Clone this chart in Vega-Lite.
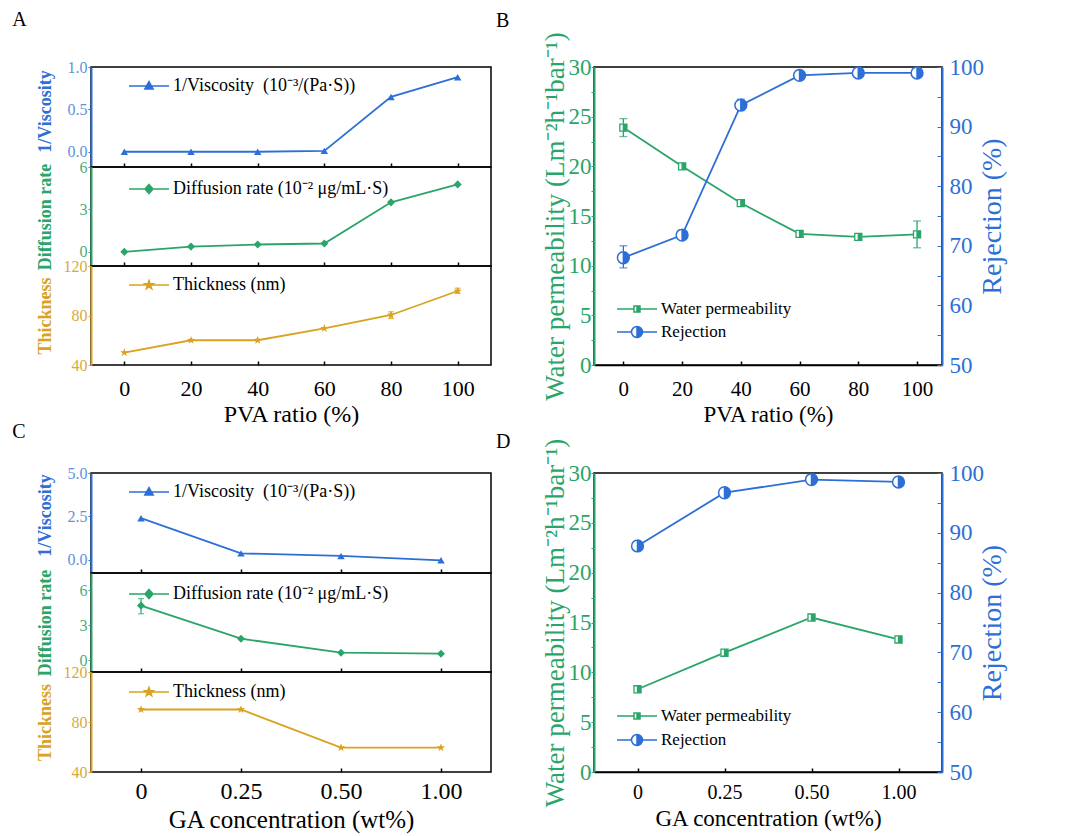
{
  "$schema": "https://vega.github.io/schema/vega-lite/v6.json",
  "padding": {"left": 12, "top": 10, "right": 5, "bottom": 5},
  "background": "white",
  "config": {
    "font": "Liberation Serif",
    "view": {"stroke": "black", "strokeWidth": 1.5},
    "axis": {"grid": false, "labelFont": "Liberation Serif", "titleFont": "Liberation Serif", "domainWidth": 2, "labelFlush": false, "labelOverlap": false, "titleFontWeight": "normal"},
    "legend": {"labelFont": "Liberation Serif", "labelColor": "black", "labelLimit": 0},
    "title": {"font": "Liberation Serif", "fontWeight": "normal", "fontSize": 20, "color": "black"}
  },
  "datasets": {
    "pva": [
      {"pva": 0, "visc": 0, "diff": 0, "thick": 50, "perm": 23.9, "perm_lo": 23.0, "perm_hi": 24.8, "rej": 68, "rej_lo": 66.3, "rej_hi": 70},
      {"pva": 20, "visc": 0, "diff": 0.37, "thick": 60, "perm": 20.0, "rej": 71.8},
      {"pva": 40, "visc": 0, "diff": 0.52, "thick": 60, "perm": 16.3, "rej": 93.6, "rej_lo": 92.7, "rej_hi": 94.6},
      {"pva": 60, "visc": 0.01, "diff": 0.59, "thick": 69.6, "perm": 13.2, "rej": 98.6},
      {"pva": 80, "visc": 0.647, "diff": 3.5, "thick": 80.4, "thick_lo": 77.5, "thick_hi": 83, "perm": 12.9, "rej": 99},
      {"pva": 100, "visc": 0.88, "diff": 4.77, "thick": 99.8, "thick_lo": 98, "thick_hi": 102, "perm": 13.15, "perm_lo": 11.8, "perm_hi": 14.5, "rej": 99}
    ],
    "ga": [
      {"ga": "0", "visc": 2.4, "diff": 4.7, "diff_lo": 4.0, "diff_hi": 5.3, "thick": 90, "perm": 8.3, "rej": 87.8},
      {"ga": "0.25", "visc": 0.38, "diff": 1.86, "thick": 90, "perm": 11.97, "rej": 96.7},
      {"ga": "0.50", "visc": 0.23, "diff": 0.66, "thick": 59.5, "perm": 15.5, "rej": 98.9},
      {"ga": "1.00", "visc": -0.02, "diff": 0.57, "thick": 59.5, "perm": 13.3, "rej": 98.5}
    ]
  },
  "vconcat": [
    {
      "hconcat": [
        {
          "title": {"text": "A", "anchor": "start", "dx": -23, "offset": 28},
          "spacing": 0,
          "bounds": "flush",
          "resolve": {"scale": {"color": "independent"}, "legend": {"color": "independent"}},
          "vconcat": [
            {
              "width": 400, "height": 100,
              "data": {"name": "pva"},
              "encoding": {
                "x": {"field": "pva", "type": "quantitative", "scale": {"domain": [-10, 110], "nice": false, "zero": false}, "axis": {"values": [0, 20, 40, 60, 80, 100], "labels": false, "title": null, "domain": false, "tickColor": "black", "tickSize": -4, "tickWidth": 1.5}},
                "y": {"field": "visc", "type": "quantitative", "scale": {"domain": [-0.18, 1], "nice": false, "zero": false}, "axis": {"values": [0, 0.5, 1], "format": ".1f", "title": "1/Viscosity", "titleColor": "#2d6fd6", "titleFontWeight": "bold", "titleFontSize": 18, "titleX": -46, "titleY": 44, "titleBaseline": "middle", "labelColor": "#5d93dc", "labelFontSize": 16, "domainColor": "#2d6fd6", "tickColor": "#2d6fd6", "tickSize": 3, "labelPadding": 1}}
              },
              "layer": [
                {"mark": {"type": "line", "color": "#2d6fd6", "strokeWidth": 1.8}},
                {"mark": {"type": "point", "shape": "triangle-up", "filled": true, "size": 55, "opacity": 1},
                 "encoding": {"color": {"datum": "1/Viscosity\u00a0 (10⁻³/(Pa·S))", "scale": {"range": ["#2d6fd6"]},
                   "legend": {"orient": "none", "legendX": 47, "legendY": 8, "title": null, "labelFontSize": 18, "symbolType": "M-2,0H2M0,-0.45L0.42,0.3H-0.42Z", "symbolSize": 400, "padding": 0, "labelOffset": 13, "symbolStrokeColor": "#2d6fd6", "symbolStrokeWidth": 1.5}}}}
              ]
            },
            {
              "width": 400, "height": 99,
              "data": {"name": "pva"},
              "encoding": {
                "x": {"field": "pva", "type": "quantitative", "scale": {"domain": [-10, 110], "nice": false, "zero": false}, "axis": {"values": [0, 20, 40, 60, 80, 100], "labels": false, "title": null, "domain": false, "tickColor": "black", "tickSize": -4, "tickWidth": 1.5}},
                "y": {"field": "diff", "type": "quantitative", "scale": {"domain": [-1, 6], "nice": false, "zero": false}, "axis": {"values": [0, 3, 6], "title": "Diffusion rate", "titleColor": "#2aa56a", "titleFontWeight": "bold", "titleFontSize": 18, "titleX": -46, "titleBaseline": "middle", "labelColor": "#4aad7e", "labelFontSize": 16, "domainColor": "#2aa56a", "tickColor": "#2aa56a", "tickSize": 3, "labelPadding": 1}}
              },
              "layer": [
                {"mark": {"type": "line", "color": "#2aa56a", "strokeWidth": 1.8}},
                {"mark": {"type": "point", "shape": "diamond", "filled": true, "size": 65, "opacity": 1},
                 "encoding": {"color": {"datum": "Diffusion rate (10⁻² μg/mL·S)", "scale": {"range": ["#2aa56a"]},
                   "legend": {"orient": "none", "legendX": 47, "legendY": 11, "title": null, "labelFontSize": 18, "symbolType": "M-2,0H2M0,-0.45L0.4,0L0,0.45L-0.4,0Z", "symbolSize": 400, "padding": 0, "labelOffset": 13, "symbolStrokeColor": "#2aa56a", "symbolStrokeWidth": 1.5}}}}
              ]
            },
            {
              "width": 400, "height": 99,
              "data": {"name": "pva"},
              "encoding": {
                "x": {"field": "pva", "type": "quantitative", "scale": {"domain": [-10, 110], "nice": false, "zero": false}, "axis": {"values": [0, 20, 40, 60, 80, 100], "title": "PVA ratio (%)", "titleFontSize": 24, "titleColor": "black", "labelFontSize": 22, "labelColor": "black", "labelPadding": 17, "titlePadding": 3, "domain": false, "tickColor": "black", "tickSize": -4, "tickWidth": 1.5}},
                "y": {"field": "thick", "type": "quantitative", "scale": {"domain": [40, 120], "nice": false, "zero": false}, "axis": {"values": [40, 80, 120], "title": "Thickness", "titleColor": "#d9a21f", "titleFontWeight": "bold", "titleFontSize": 18, "titleX": -46, "titleBaseline": "middle", "labelColor": "#d8a93a", "labelFontSize": 16, "domainColor": "#d9a21f", "tickColor": "#d9a21f", "tickSize": 3, "labelPadding": 1}}
              },
              "layer": [
                {"transform": [{"filter": "isValid(datum.thick_lo)"}], "mark": {"type": "errorbar", "color": "#d9a21f", "ticks": true, "size": 6, "thickness": 1.2}, "encoding": {"y": {"field": "thick_lo", "type": "quantitative", "title": "Thickness"}, "y2": {"field": "thick_hi"}}},
                {"mark": {"type": "line", "color": "#d9a21f", "strokeWidth": 1.8}},
                {"mark": {"type": "point", "shape": "M0,-1L0.24,-0.33L0.95,-0.31L0.38,0.12L0.59,0.81L0,0.4L-0.59,0.81L-0.38,0.12L-0.95,-0.31L-0.24,-0.33Z", "filled": true, "size": 75, "opacity": 1},
                 "encoding": {"color": {"datum": "Thickness (nm)", "scale": {"range": ["#d9a21f"]},
                   "legend": {"orient": "none", "legendX": 47, "legendY": 8, "title": null, "labelFontSize": 18, "symbolType": "M-2,0H2M0,-0.45L0.11,-0.15L0.43,-0.14L0.17,0.05L0.27,0.36L0,0.18L-0.27,0.36L-0.17,0.05L-0.43,-0.14L-0.11,-0.15Z", "symbolSize": 400, "padding": 0, "labelOffset": 13, "symbolStrokeColor": "#d9a21f", "symbolStrokeWidth": 1.5}}}}
              ]
            }
          ]
        },
        {
          "title": {"text": "B", "anchor": "start", "dx": -45, "offset": 1},
          "width": 348, "height": 298,
          "data": {"name": "pva"},
          "encoding": {
            "x": {"field": "pva", "type": "quantitative", "scale": {"domain": [-10, 108.5], "nice": false, "zero": false}, "axis": {"values": [0, 20, 40, 60, 80, 100], "title": "PVA ratio (%)", "titleFontSize": 23, "titleColor": "black", "labelFontSize": 21, "labelColor": "black", "labelPadding": 17, "titlePadding": 4, "domainColor": "black", "domainWidth": 1.5, "tickColor": "black", "tickSize": -4, "tickWidth": 1.5}}
          },
          "layer": [
            {
              "encoding": {"y": {"field": "perm", "type": "quantitative", "title": "Water permeability (Lm⁻²h⁻¹bar⁻¹)", "scale": {"domain": [0, 30], "nice": false, "zero": false},
                "axis": {"values": [0, 2.5, 5, 7.5, 10, 12.5, 15, 17.5, 20, 22.5, 25, 27.5, 30], "labelExpr": "datum.value % 5 === 0 ? datum.label : ''", "titleColor": "#2aa56a", "titleFontSize": 27, "titleX": -39, "titleBaseline": "middle", "labelColor": "#2aa56a", "labelFontSize": 23, "domainColor": "#2aa56a", "tickColor": "#2aa56a", "tickSize": 3, "labelPadding": 0}}},
              "layer": [
                {"transform": [{"filter": "isValid(datum.perm_lo)"}], "mark": {"type": "errorbar", "color": "#2aa56a", "ticks": true, "size": 8, "thickness": 1.3}, "encoding": {"y": {"field": "perm_lo", "type": "quantitative", "title": "Water permeability (Lm⁻²h⁻¹bar⁻¹)"}, "y2": {"field": "perm_hi"}}},
                {"mark": {"type": "line", "color": "#2aa56a", "strokeWidth": 1.8}},
                {"mark": {"type": "point", "shape": "square", "filled": true, "color": "white", "size": 60, "opacity": 1}},
                {"mark": {"type": "point", "shape": "M0,-1H-1V1H0H-1V-1H0M0,-1H1V1H0Z", "filled": true, "size": 50, "opacity": 1, "stroke": "#2aa56a", "strokeWidth": 1.3},
                 "encoding": {"color": {"datum": "Water permeability", "scale": {"range": ["#2aa56a"]},
                   "legend": {"orient": "none", "legendX": 32, "legendY": 231, "title": null, "labelFontSize": 17, "symbolSize": 400, "padding": 0, "labelOffset": 13,
                     "symbolType": "M-2,0H-0.3M0.3,0H2M0,-0.3H-0.3V0.3H0H-0.3V-0.3H0M0,-0.3H0.3V0.3H0Z", "symbolStrokeColor": "#2aa56a", "symbolStrokeWidth": 1.5}}}}
              ]
            },
            {
              "encoding": {"y": {"field": "rej", "type": "quantitative", "title": "Rejection (%)", "scale": {"domain": [50, 100], "nice": false, "zero": false},
                "axis": {"orient": "right", "values": [50, 55, 60, 65, 70, 75, 80, 85, 90, 95, 100], "labelExpr": "datum.value % 10 === 0 ? datum.label : ''", "titleColor": "#2d6fd6", "titleFontSize": 28, "titleAngle": -90, "titleX": 50, "titleBaseline": "middle", "labelColor": "#2d6fd6", "labelFontSize": 23, "domainColor": "#2d6fd6", "tickColor": "#2d6fd6", "tickSize": -5, "labelPadding": 12}}},
              "layer": [
                {"transform": [{"filter": "isValid(datum.rej_lo)"}], "mark": {"type": "errorbar", "color": "#2d6fd6", "ticks": true, "size": 8, "thickness": 1.3}, "encoding": {"y": {"field": "rej_lo", "type": "quantitative", "title": "Rejection (%)"}, "y2": {"field": "rej_hi"}}},
                {"mark": {"type": "line", "color": "#2d6fd6", "strokeWidth": 1.8}},
                {"mark": {"type": "point", "shape": "circle", "filled": true, "color": "white", "size": 140, "opacity": 1}},
                {"mark": {"type": "point", "shape": "M0,-1A1,1 0 0,0 0,1A1,1 0 0,1 0,-1M0,-1A1,1 0 0,1 0,1Z", "filled": true, "size": 140, "opacity": 1, "stroke": "#2d6fd6", "strokeWidth": 1.5},
                 "encoding": {"color": {"datum": "Rejection", "scale": {"range": ["#2d6fd6"]},
                   "legend": {"orient": "none", "legendX": 32, "legendY": 254, "title": null, "labelFontSize": 17, "symbolSize": 400, "padding": 0, "labelOffset": 13,
                     "symbolType": "M-2,0H-0.55M0.55,0H2M0,-0.55A0.55,0.55 0 0,0 0,0.55A0.55,0.55 0 0,1 0,-0.55M0,-0.55A0.55,0.55 0 0,1 0,0.55Z", "symbolStrokeColor": "#2d6fd6", "symbolStrokeWidth": 1.5}}}}
              ]
            }
          ],
          "resolve": {"scale": {"y": "independent", "color": "independent"}, "legend": {"color": "independent"}}
        }
      ],
      "spacing": 3,
      "resolve": {"scale": {"color": "independent"}, "legend": {"color": "independent"}}
    },
    {
      "hconcat": [
        {
          "title": {"text": "C", "anchor": "start", "dx": -23, "offset": 22},
          "spacing": 0,
          "bounds": "flush",
          "resolve": {"scale": {"color": "independent"}, "legend": {"color": "independent"}},
          "vconcat": [
            {
              "width": 400, "height": 100,
              "data": {"name": "ga"},
              "encoding": {
                "x": {"field": "ga", "type": "ordinal", "sort": null, "scale": {"type": "point", "domain": ["0", "0.25", "0.50", "1.00"], "padding": 0.5}, "axis": {"labels": false, "title": null, "domain": false, "tickColor": "black", "tickSize": -4, "tickWidth": 1.5}},
                "y": {"field": "visc", "type": "quantitative", "scale": {"domain": [-0.75, 5], "nice": false, "zero": false}, "axis": {"values": [0, 2.5, 5], "format": ".1f", "title": "1/Viscosity", "titleColor": "#2d6fd6", "titleFontWeight": "bold", "titleFontSize": 18, "titleX": -46, "titleY": 42, "titleBaseline": "middle", "labelColor": "#5d93dc", "labelFontSize": 16, "domainColor": "#2d6fd6", "tickColor": "#2d6fd6", "tickSize": 3, "labelPadding": 1}}
              },
              "layer": [
                {"mark": {"type": "line", "color": "#2d6fd6", "strokeWidth": 1.8}},
                {"mark": {"type": "point", "shape": "triangle-up", "filled": true, "size": 55, "opacity": 1},
                 "encoding": {"color": {"datum": "1/Viscosity\u00a0 (10⁻³/(Pa·S))", "scale": {"range": ["#2d6fd6"]},
                   "legend": {"orient": "none", "legendX": 47, "legendY": 8, "title": null, "labelFontSize": 18, "symbolType": "M-2,0H2M0,-0.45L0.42,0.3H-0.42Z", "symbolSize": 400, "padding": 0, "labelOffset": 13, "symbolStrokeColor": "#2d6fd6", "symbolStrokeWidth": 1.5}}}}
              ]
            },
            {
              "width": 400, "height": 99,
              "data": {"name": "ga"},
              "encoding": {
                "x": {"field": "ga", "type": "ordinal", "sort": null, "scale": {"type": "point", "domain": ["0", "0.25", "0.50", "1.00"], "padding": 0.5}, "axis": {"labels": false, "title": null, "domain": false, "tickColor": "black", "tickSize": -4, "tickWidth": 1.5}},
                "y": {"field": "diff", "type": "quantitative", "scale": {"domain": [-1, 7.5], "nice": false, "zero": false}, "axis": {"values": [0, 3, 6], "title": "Diffusion rate", "titleColor": "#2aa56a", "titleFontWeight": "bold", "titleFontSize": 18, "titleX": -46, "titleBaseline": "middle", "labelColor": "#4aad7e", "labelFontSize": 16, "domainColor": "#2aa56a", "tickColor": "#2aa56a", "tickSize": 3, "labelPadding": 1}}
              },
              "layer": [
                {"transform": [{"filter": "isValid(datum.diff_lo)"}], "mark": {"type": "errorbar", "color": "#2aa56a", "ticks": true, "size": 6, "thickness": 1.2}, "encoding": {"y": {"field": "diff_lo", "type": "quantitative", "title": "Diffusion rate"}, "y2": {"field": "diff_hi"}}},
                {"mark": {"type": "line", "color": "#2aa56a", "strokeWidth": 1.8}},
                {"mark": {"type": "point", "shape": "diamond", "filled": true, "size": 65, "opacity": 1},
                 "encoding": {"color": {"datum": "Diffusion rate (10⁻² μg/mL·S)", "scale": {"range": ["#2aa56a"]},
                   "legend": {"orient": "none", "legendX": 47, "legendY": 10, "title": null, "labelFontSize": 18, "symbolType": "M-2,0H2M0,-0.45L0.4,0L0,0.45L-0.4,0Z", "symbolSize": 400, "padding": 0, "labelOffset": 13, "symbolStrokeColor": "#2aa56a", "symbolStrokeWidth": 1.5}}}}
              ]
            },
            {
              "width": 400, "height": 100,
              "data": {"name": "ga"},
              "encoding": {
                "x": {"field": "ga", "type": "ordinal", "sort": null, "scale": {"type": "point", "domain": ["0", "0.25", "0.50", "1.00"], "padding": 0.5}, "axis": {"labelAngle": 0, "title": "GA concentration (wt%)", "titleFontSize": 25, "titleColor": "black", "labelFontSize": 24, "labelColor": "black", "labelPadding": 11, "titlePadding": 4, "domain": false, "tickColor": "black", "tickSize": -4, "tickWidth": 1.5}},
                "y": {"field": "thick", "type": "quantitative", "scale": {"domain": [40, 120], "nice": false, "zero": false}, "axis": {"values": [40, 80, 120], "title": "Thickness", "titleColor": "#d9a21f", "titleFontWeight": "bold", "titleFontSize": 18, "titleX": -46, "titleBaseline": "middle", "labelColor": "#d8a93a", "labelFontSize": 16, "domainColor": "#d9a21f", "tickColor": "#d9a21f", "tickSize": 3, "labelPadding": 1}}
              },
              "layer": [
                {"mark": {"type": "line", "color": "#d9a21f", "strokeWidth": 1.8}},
                {"mark": {"type": "point", "shape": "M0,-1L0.24,-0.33L0.95,-0.31L0.38,0.12L0.59,0.81L0,0.4L-0.59,0.81L-0.38,0.12L-0.95,-0.31L-0.24,-0.33Z", "filled": true, "size": 75, "opacity": 1},
                 "encoding": {"color": {"datum": "Thickness (nm)", "scale": {"range": ["#d9a21f"]},
                   "legend": {"orient": "none", "legendX": 47, "legendY": 9, "title": null, "labelFontSize": 18, "symbolType": "M-2,0H2M0,-0.45L0.11,-0.15L0.43,-0.14L0.17,0.05L0.27,0.36L0,0.18L-0.27,0.36L-0.17,0.05L-0.43,-0.14L-0.11,-0.15Z", "symbolSize": 400, "padding": 0, "labelOffset": 13, "symbolStrokeColor": "#d9a21f", "symbolStrokeWidth": 1.5}}}}
              ]
            }
          ]
        },
        {
          "title": {"text": "D", "anchor": "start", "dx": -45, "offset": -14},
          "width": 348, "height": 299,
          "data": {"name": "ga"},
          "encoding": {
            "x": {"field": "ga", "type": "ordinal", "sort": null, "scale": {"type": "point", "domain": ["0", "0.25", "0.50", "1.00"], "padding": 0.5}, "axis": {"labelAngle": 0, "title": "GA concentration (wt%)", "titleFontSize": 23, "titleColor": "black", "labelFontSize": 20, "labelColor": "black", "labelPadding": 14, "titlePadding": 5, "domainColor": "black", "domainWidth": 1.5, "tickColor": "black", "tickSize": -4, "tickWidth": 1.5}}
          },
          "layer": [
            {
              "encoding": {"y": {"field": "perm", "type": "quantitative", "title": "Water permeability (Lm⁻²h⁻¹bar⁻¹)", "scale": {"domain": [0, 30], "nice": false, "zero": false},
                "axis": {"values": [0, 2.5, 5, 7.5, 10, 12.5, 15, 17.5, 20, 22.5, 25, 27.5, 30], "labelExpr": "datum.value % 5 === 0 ? datum.label : ''", "titleColor": "#2aa56a", "titleFontSize": 27, "titleX": -39, "titleBaseline": "middle", "labelColor": "#2aa56a", "labelFontSize": 23, "domainColor": "#2aa56a", "tickColor": "#2aa56a", "tickSize": 3, "labelPadding": 0}}},
              "layer": [
                {"mark": {"type": "line", "color": "#2aa56a", "strokeWidth": 1.8}},
                {"mark": {"type": "point", "shape": "square", "filled": true, "color": "white", "size": 60, "opacity": 1}},
                {"mark": {"type": "point", "shape": "M0,-1H-1V1H0H-1V-1H0M0,-1H1V1H0Z", "filled": true, "size": 50, "opacity": 1, "stroke": "#2aa56a", "strokeWidth": 1.3},
                 "encoding": {"color": {"datum": "Water permeability", "scale": {"range": ["#2aa56a"]},
                   "legend": {"orient": "none", "legendX": 32, "legendY": 232, "title": null, "labelFontSize": 17, "symbolSize": 400, "padding": 0, "labelOffset": 13,
                     "symbolType": "M-2,0H-0.3M0.3,0H2M0,-0.3H-0.3V0.3H0H-0.3V-0.3H0M0,-0.3H0.3V0.3H0Z", "symbolStrokeColor": "#2aa56a", "symbolStrokeWidth": 1.5}}}}
              ]
            },
            {
              "encoding": {"y": {"field": "rej", "type": "quantitative", "title": "Rejection (%)", "scale": {"domain": [50, 100], "nice": false, "zero": false},
                "axis": {"orient": "right", "values": [50, 55, 60, 65, 70, 75, 80, 85, 90, 95, 100], "labelExpr": "datum.value % 10 === 0 ? datum.label : ''", "titleColor": "#2d6fd6", "titleFontSize": 28, "titleAngle": -90, "titleX": 50, "titleBaseline": "middle", "labelColor": "#2d6fd6", "labelFontSize": 23, "domainColor": "#2d6fd6", "tickColor": "#2d6fd6", "tickSize": -5, "labelPadding": 12}}},
              "layer": [
                {"mark": {"type": "line", "color": "#2d6fd6", "strokeWidth": 1.8}},
                {"mark": {"type": "point", "shape": "circle", "filled": true, "color": "white", "size": 140, "opacity": 1}},
                {"mark": {"type": "point", "shape": "M0,-1A1,1 0 0,0 0,1A1,1 0 0,1 0,-1M0,-1A1,1 0 0,1 0,1Z", "filled": true, "size": 140, "opacity": 1, "stroke": "#2d6fd6", "strokeWidth": 1.5},
                 "encoding": {"color": {"datum": "Rejection", "scale": {"range": ["#2d6fd6"]},
                   "legend": {"orient": "none", "legendX": 32, "legendY": 256, "title": null, "labelFontSize": 17, "symbolSize": 400, "padding": 0, "labelOffset": 13,
                     "symbolType": "M-2,0H-0.55M0.55,0H2M0,-0.55A0.55,0.55 0 0,0 0,0.55A0.55,0.55 0 0,1 0,-0.55M0,-0.55A0.55,0.55 0 0,1 0,0.55Z", "symbolStrokeColor": "#2d6fd6", "symbolStrokeWidth": 1.5}}}}
              ]
            }
          ],
          "resolve": {"scale": {"y": "independent", "color": "independent"}, "legend": {"color": "independent"}}
        }
      ],
      "spacing": 3,
      "resolve": {"scale": {"color": "independent"}, "legend": {"color": "independent"}}
    }
  ],
  "spacing": -5,
  "resolve": {"scale": {"color": "independent"}, "legend": {"color": "independent"}}
}
